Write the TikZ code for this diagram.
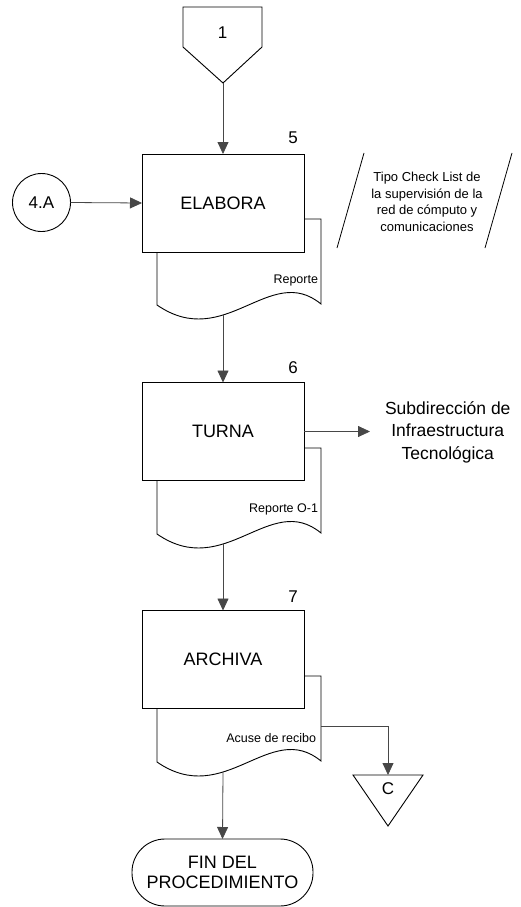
\documentclass[tikz,border=0pt]{standalone}
\usepackage{fontspec}
\setmainfont{Liberation Sans}
\usetikzlibrary{arrows.meta,shapes.geometric}

% Document sheet with a wavy bottom, tucked behind a process box.
% #1 = y of the box bottom, #2 = name of the coordinate at the sheet bottom
\newcommand\docsheet[2]{%
  \draw[shapeline] (157,#1-33) -- (321,#1-33) -- (321,#1+52)
    .. controls (270,#1+10) and (225,#1+100) .. (157,#1+53) -- cycle;
  \coordinate (#2) at (223,#1+63);
}

\begin{document}
\begin{tikzpicture}[x=1pt,y=-1pt,
  every node/.style={inner sep=0pt, outer sep=0pt},
  shapeline/.style={draw=black, line width=0.9pt, fill=white},
  stepbox/.style={shapeline, rectangle, minimum width=162pt, minimum height=98pt,
    font=\fontsize{18}{21}\selectfont},
  flow/.style={draw=black!72, line width=0.8pt, -{Triangle[length=12pt,width=11pt]}},
  num/.style={font=\fontsize{17}{20}\selectfont},
  doclabel/.style={anchor=east, font=\fontsize{12.5}{15}\selectfont},
  note/.style={align=center, font=\fontsize{13}{16.7}\selectfont}]
\useasboundingbox (0,0) rectangle (521,907);

% off-page connector 1
\draw[shapeline] (183,7) -- (262,7) -- (262,47) -- (223,83) -- (183,47) -- cycle;
\node[num] (p1) at (222.5,33) {1};
\coordinate (p1tip) at (223,83);

% step 5
\docsheet{252}{doc5}
\node[stepbox] (elabora) at (223,203) {ELABORA};
\node[num] (n5) at (293,138) {5};
\node[doclabel] (rep5) at (318,280) {Reporte};
\node[shapeline, circle, minimum size=58pt, font=\fontsize{17}{20}\selectfont] (c4a) at (41.5,202.5) {4.A};

% note on the check list
\draw[black, line width=0.8pt] (337,248) -- (364,153);
\draw[black, line width=0.8pt] (485,248) -- (512,153);
\node[note] (nota) at (427,202) {Tipo Check List de\\la supervisión de la\\red de cómputo y\\comunicaciones};

% step 6
\docsheet{481}{doc6}
\node[stepbox] (turna) at (223,431.5) {TURNA};
\node[num] (n6) at (293,368) {6};
\node[doclabel] (rep6) at (318,509) {Reporte O-1};
\node[align=center, font=\fontsize{17.5}{22.5}\selectfont, anchor=west] (sub) at (385,432)
  {Subdirección de\\Infraestructura\\Tecnológica};

% step 7
\docsheet{709}{doc7}
\node[stepbox] (archiva) at (223,659.5) {ARCHIVA};
\node[num] (n7) at (293,597) {7};
\node[doclabel] (rep7) at (316,738) {Acuse de recibo};

% connector C
\draw[shapeline] (353,775) -- (423,775) -- (388,826) -- cycle;
\node[num] (pc) at (388,789) {C};
\coordinate (ctop) at (388,775);
\coordinate (doc7r) at (321,726);

% end terminal
\node[shapeline, rectangle, rounded corners=33pt, minimum width=181pt, minimum height=67pt,
  align=center, font=\fontsize{18}{20.5}\selectfont] (fin) at (222.5,872.5)
  {FIN DEL\\PROCEDIMIENTO};

% connectors
\draw[flow] (p1tip) -- (elabora.north);
\draw[flow] (c4a.east) -- (elabora.west);
\draw[flow] (doc5) -- (turna.north);
\draw[flow] (turna.east) -- ([xshift=-15pt]sub.west |- turna.east);
\draw[flow] (doc6) -- (archiva.north);
\draw[flow] (doc7r) -| (ctop);
\draw[flow] (doc7) -- (fin.north);
\end{tikzpicture}
\end{document}
